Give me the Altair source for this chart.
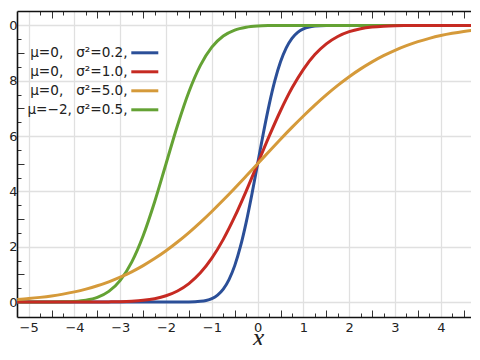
import altair as alt
import pandas as pd

# ---- data ----
labels = [
    "μ=0,\u00a0\u00a0\u00a0σ²=0.2,",
    "μ=0,\u00a0\u00a0\u00a0σ²=1.0,",
    "μ=0,\u00a0\u00a0\u00a0σ²=5.0,",
    "μ=\u22122,\u00a0σ²=0.5,",
]
colors = ["#2b4f98", "#c62a22", "#d59a3a", "#64a234"]

blue_x = [-5.25, -2.0, -1.75, -1.5, -1.25, -1.125, -1.0, -0.875, -0.75, -0.625, -0.5,
          -0.375, -0.25, -0.125, 0.0, 0.125, 0.25, 0.375, 0.5, 0.625, 0.75, 0.875,
          1.0, 1.125, 1.25, 1.5, 1.75, 2.0, 5.0]
blue_y = [0.0, 0.0, 0.0001, 0.0004, 0.0026, 0.0059, 0.0127, 0.0252, 0.0468, 0.0812, 0.1317,
          0.2009, 0.2881, 0.3899, 0.5, 0.6101, 0.7119, 0.7991, 0.8683, 0.9188, 0.9532, 0.9748,
          0.9873, 0.9941, 0.9974, 0.9996, 0.9999, 1.0, 1.0]

red_x = [-5.25, -4.0, -3.5, -3.25, -3.0, -2.75, -2.5, -2.25, -2.0, -1.75, -1.5, -1.25, -1.0,
         -0.75, -0.5, -0.25, 0.0, 0.25, 0.5, 0.75, 1.0, 1.25, 1.5, 1.75, 2.0, 2.25, 2.5,
         2.75, 3.0, 3.25, 3.5, 4.0, 5.0]
red_y = [0.0, 0.0, 0.0002, 0.0006, 0.0013, 0.0030, 0.0062, 0.0122, 0.0228, 0.0401, 0.0668,
         0.1056, 0.1587, 0.2266, 0.3085, 0.4013, 0.5, 0.5987, 0.6915, 0.7734, 0.8413, 0.8944,
         0.9332, 0.9599, 0.9772, 0.9878, 0.9938, 0.9970, 0.9987, 0.9994, 0.9998, 1.0, 1.0]

orange_x = [-5.25, -5.0, -4.75, -4.5, -4.25, -4.0, -3.75, -3.5, -3.25, -3.0, -2.75, -2.5,
            -2.25, -2.0, -1.75, -1.5, -1.25, -1.0, -0.75, -0.5, -0.25, 0.0, 0.25, 0.5, 0.75,
            1.0, 1.25, 1.5, 1.75, 2.0, 2.25, 2.5, 2.75, 3.0, 3.25, 3.5, 3.75, 4.0, 4.25, 4.5,
            4.75, 5.0]
orange_y = [0.0094, 0.0127, 0.0169, 0.0221, 0.0287, 0.0368, 0.0468, 0.0588, 0.0731, 0.0899,
            0.1094, 0.1318, 0.1572, 0.1855, 0.2169, 0.2512, 0.2881, 0.3274, 0.3687, 0.4115,
            0.4555, 0.5, 0.5445, 0.5885, 0.6313, 0.6726, 0.7119, 0.7488, 0.7831, 0.8145,
            0.8428, 0.8682, 0.8906, 0.9101, 0.9269, 0.9412, 0.9532, 0.9632, 0.9713, 0.9779,
            0.9831, 0.9873]

green_x = [-5.25, -4.75, -4.5, -4.25, -4.0, -3.75, -3.5, -3.25, -3.0, -2.75, -2.5, -2.25,
           -2.0, -1.75, -1.5, -1.25, -1.0, -0.75, -0.5, -0.25, 0.0, 0.25, 0.5, 1.0, 5.0]
green_y = [0.0, 0.0001, 0.0002, 0.0007, 0.0023, 0.0067, 0.0169, 0.0385, 0.0786, 0.1444,
           0.2398, 0.3618, 0.5, 0.6382, 0.7602, 0.8556, 0.9214, 0.9615, 0.9831, 0.9933,
           0.9977, 0.9993, 0.9998, 1.0, 1.0]

x_ticks = [-5.0, -4.75, -4.5, -4.25, -4.0, -3.75, -3.5, -3.25, -3.0, -2.75, -2.5, -2.25,
           -2.0, -1.75, -1.5, -1.25, -1.0, -0.75, -0.5, -0.25, 0.0, 0.25, 0.5, 0.75, 1.0,
           1.25, 1.5, 1.75, 2.0, 2.25, 2.5, 2.75, 3.0, 3.25, 3.5, 3.75, 4.0, 4.25, 4.5]
y_ticks = [0.0, 0.05, 0.1, 0.15, 0.2, 0.25, 0.3, 0.35, 0.4, 0.45, 0.5, 0.55, 0.6, 0.65,
           0.7, 0.75, 0.8, 0.85, 0.9, 0.95, 1.0]

series_x = [blue_x, red_x, orange_x, green_x]
series_y = [blue_y, red_y, orange_y, green_y]
rows = []
for lab, xs, ys in zip(labels, series_x, series_y):
    for xv, yv in zip(xs, ys):
        rows.append({"x": xv, "y": yv, "series": lab})
df = pd.DataFrame(rows)

draw_order = [labels[0], labels[3], labels[1], labels[2]]  # blue, green, red, orange

X_N = "abs(round(datum.value*4) % 4)"
Y_N = "abs(round(datum.value*20) % 4)"
x_tick_expr = f"{X_N} === 0 ? 0 : ({X_N} === 2 ? -7 : -4)"
y_tick_expr = f"{Y_N} === 0 ? 0 : ({Y_N} === 2 ? -7 : -4)"

common_axis = dict(
    tickColor="#333", tickWidth=1, domainColor="#111", domainWidth=1.6,
    labelFont="DejaVu Sans", labelFontSize=13, labelColor="#222",
    labelFlush=False, labelOverlap=False,
)

x_bottom = alt.Axis(
    orient="bottom", values=x_ticks,
    labelExpr=f"{X_N} === 0 ? replace(format(datum.value, 'd'), '-', '\u2212') : ''",
    grid=True, gridColor="#e0e0e0", gridWidth=1.3,
    gridOpacity={"condition": {"test": f"{X_N} === 0", "value": 1}, "value": 0},
    tickSize={"expr": x_tick_expr}, labelPadding=4,
    title="x", titleFont="Liberation Serif", titleFontStyle="italic",
    titleFontWeight="normal", titleFontSize=26, titleColor="#222",
    titleBaseline="alphabetic", titleAlign="center", titleX=241, titleY=28,
    **common_axis,
)
x_top = alt.Axis(
    orient="top", values=x_ticks, labels=False, grid=False,
    tickSize={"expr": x_tick_expr}, title=None, **common_axis,
)
y_left = alt.Axis(
    orient="left", values=y_ticks,
    labelExpr=f"{Y_N} === 0 ? slice(format(datum.value, '.1f'), -1) : ''",
    grid=True, gridColor="#e0e0e0", gridWidth=1.3,
    gridOpacity={"condition": {"test": f"{Y_N} === 0", "value": 1}, "value": 0},
    tickSize={"expr": y_tick_expr}, labelPadding=0, title=None,
    **common_axis,
)

xscale = alt.Scale(domain=[-5.255, 4.66], nice=False, zero=False)
yscale = alt.Scale(domain=[-0.054, 1.052], nice=False, zero=False)
color = alt.Color(
    "series:N",
    scale=alt.Scale(domain=labels, range=colors),
    legend=alt.Legend(
        orient="none", legendX=121, legendY=35, title=None,
        symbolType="M-2.7,0H2.7", symbolSize=100, symbolStrokeWidth=3,
        labelAlign="right", labelOffset={"expr": "-24"}, labelFont="DejaVu Sans",
        labelFontSize=13.6, labelColor="#222", rowPadding=4, padding=0,
    ),
)

layers = []
for i, lab in enumerate(draw_order):
    if i == 0:
        xenc = alt.X("x:Q", scale=xscale, axis=x_bottom)
    elif i == 1:
        xenc = alt.X("x:Q", scale=xscale, axis=x_top)
    else:
        xenc = alt.X("x:Q", scale=xscale, axis=None)
    layer = (
        alt.Chart(df)
        .transform_filter(alt.datum.series == lab)
        .mark_line(strokeWidth=3, clip=True, interpolate="monotone")
        .encode(
            x=xenc,
            y=alt.Y("y:Q", scale=yscale, axis=y_left),
            color=color,
        )
    )
    layers.append(layer)

chart = (
    alt.layer(*layers)
    .resolve_axis(x="independent")
    .properties(
        width=454, height=306,
        autosize=alt.AutoSizeParams(type="pad"),
        padding={"left": 0, "top": 2, "right": 0, "bottom": -5},
        background="white",
    )
    .configure_view(strokeWidth=0)
)

chart.save("out.html", embed_options={"renderer": "svg", "actions": False})
